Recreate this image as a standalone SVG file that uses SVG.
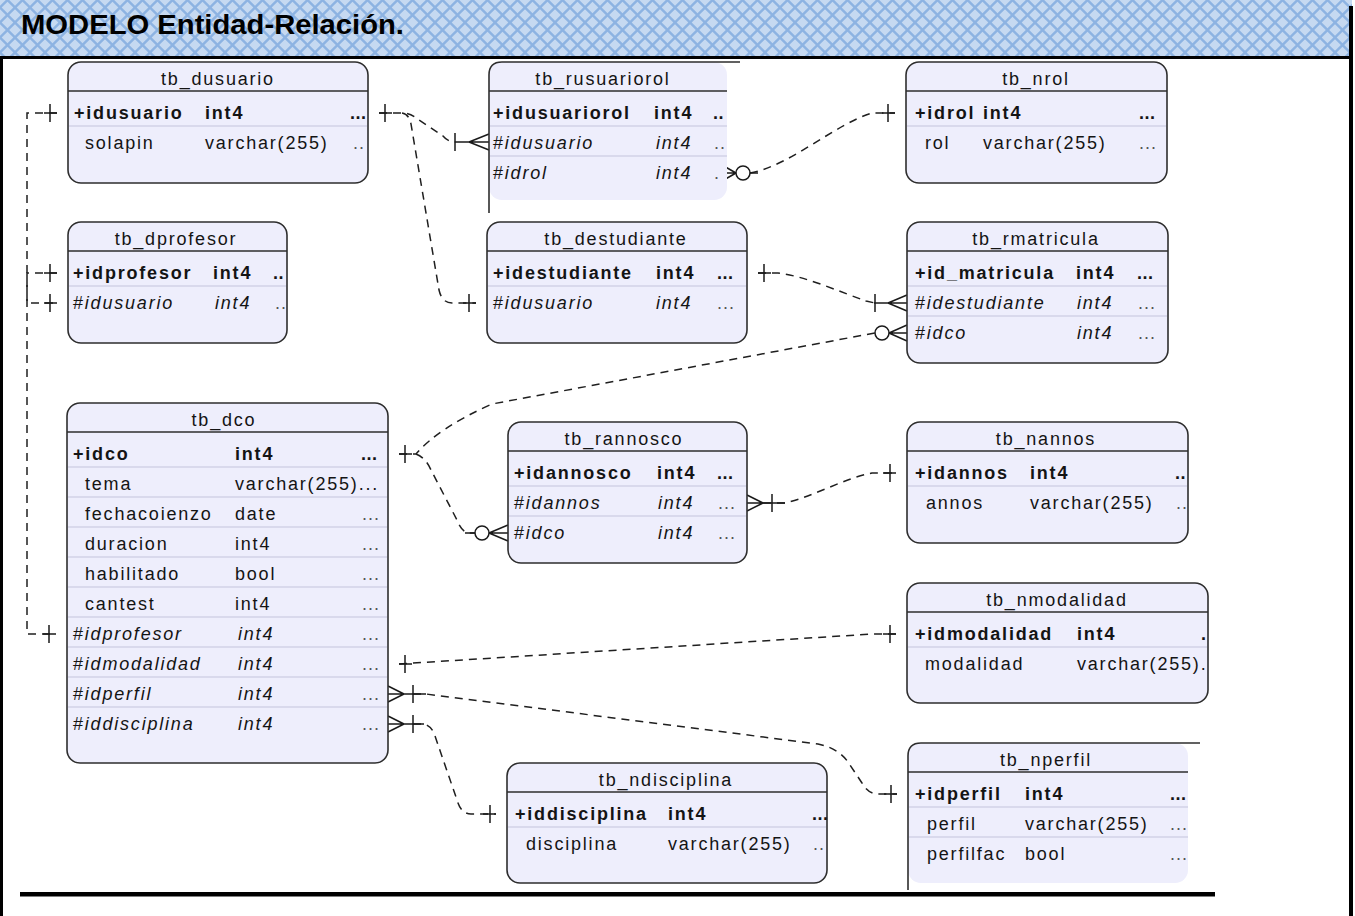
<svg xmlns="http://www.w3.org/2000/svg" width="1355" height="916" viewBox="0 0 1355 916">
<defs>
  <pattern id="hdr" width="15" height="15" patternUnits="userSpaceOnUse">
    <rect width="15" height="15" fill="#8db3e2"/>
    <path d="M7.5,1.7 L13.3,7.5 L7.5,13.3 L1.7,7.5Z" fill="#c6d9f1"/>
    <path d="M0,0 H5.8 L0,5.8Z M15,0 V5.8 L9.2,0Z M0,15 V9.2 L5.8,15Z M15,15 H9.2 L15,9.2Z" fill="#c6d9f1"/>
  </pattern>
  <style>
    .tbl{fill:#eeeefc;stroke:#2e2e2e;stroke-width:1.6}
    .fill{fill:#eeeefc}
    .edge{fill:none;stroke:#2e2e2e;stroke-width:1.6}
    .sep{stroke:#2e2e2e;stroke-width:1.6}
    .row{stroke:#c3c3dc;stroke-width:1.2}
    text{font-family:"Liberation Sans",Arial,sans-serif;font-size:18px;letter-spacing:1.8px;fill:#141414}
    .ttl{text-anchor:middle}
    .pk{font-weight:bold}
    .it{font-style:italic}
    .dots{fill:#555;letter-spacing:1px}
    .bdots{font-weight:bold;letter-spacing:0.5px}
    .lnk{fill:none;stroke:#1f1f1f;stroke-width:1.5;stroke-dasharray:8 6}
    .mk{fill:none;stroke:#1a1a1a;stroke-width:1.5}
    .circ{fill:#ffffff;stroke:#1a1a1a;stroke-width:1.5}
  </style>
</defs>

<rect width="1355" height="916" fill="#ffffff"/>

<!-- title band -->
<g id="header">
  <rect x="0" y="0" width="1352" height="57" fill="url(#hdr)"/>
  <text x="21" y="34" textLength="383" lengthAdjust="spacingAndGlyphs" style="font-size:27px;font-weight:bold;letter-spacing:0;fill:#000">MODELO Entidad-Relación.</text>
</g>

<!-- frame -->
<g id="frame" fill="#000">
  <rect x="0" y="56" width="1353" height="3"/>
  <rect x="0" y="56" width="3" height="860"/>
  <rect x="1349" y="6" width="4" height="910"/>
  <rect x="20" y="892" width="1195" height="4.5"/>
</g>

<!-- relationships -->
<g id="connectors">
  <path class="lnk" d="M57,113 H27 V303 H57"/>
  <path class="lnk" d="M57,273 H27 V634 H56"/>
  <path class="lnk" d="M379,113 H402 Q410,113 416,118 L443,136 Q448,142 455,142"/>
  <path class="lnk" d="M402,113 Q409,114 411,124 L439,290 Q442,303 452,303 H476"/>
  <path class="lnk" d="M750,173 C790,166 835,124 872,113 H895"/>
  <path class="lnk" d="M758,273 H778 C805,276 840,292 866,301 L875,303"/>
  <path class="lnk" d="M399,454 H416 Q438,428 492,404 L875,333"/>
  <path class="lnk" d="M416,454 Q426,458 431,470 L457,520 Q462,533 470,533 H475"/>
  <path class="lnk" d="M763,503 H785 C812,497 845,478 872,473 H896"/>
  <path class="lnk" d="M399,664 L872,634 H896"/>
  <path class="lnk" d="M413,694 H426 L818,744 Q838,748 848,762 L862,783 Q868,794 878,794 H897"/>
  <path class="lnk" d="M413,724 H424 Q432,726 435,736 L457,800 Q461,814 471,814 H496"/>

  <!-- one ends -->
  <path class="mk" d="M44,113 H57 M50,104 V122"/>
  <path class="mk" d="M44,303 H57 M50,294 V312"/>
  <path class="mk" d="M44,273 H57 M50,264 V282"/>
  <path class="mk" d="M43,634 H56 M49,625 V643"/>
  <path class="mk" d="M379,113 H392 M385,104 V122"/>
  <path class="mk" d="M463,303 H476 M469,294 V312"/>
  <path class="mk" d="M882,113 H895 M888,104 V122"/>
  <path class="mk" d="M758,273 H771 M764,264 V282"/>
  <path class="mk" d="M399,454 H412 M405,445 V463"/>
  <path class="mk" d="M883,473 H896 M890,464 V482"/>
  <path class="mk" d="M399,664 H412 M405,655 V673"/>
  <path class="mk" d="M883,634 H896 M890,625 V643"/>
  <path class="mk" d="M884,794 H897 M891,785 V803"/>
  <path class="mk" d="M483,814 H496 M490,805 V823"/>

  <!-- one-or-many ends -->
  <path class="mk" d="M455,142 H489 M469,142 L489,134 M469,142 L489,150 M455,133 V151"/>
  <path class="mk" d="M874,303 H907 M888,303 L907,295 M888,303 L907,311 M875,294 V312"/>
  <path class="mk" d="M388,694 H426 M404,694 L388,686 M404,694 L388,702 M413,685 V703"/>
  <path class="mk" d="M388,724 H424 M404,724 L388,716 M404,724 L388,732 M413,715 V733"/>
  <path class="mk" d="M747,503 H785 M763,503 L747,495 M763,503 L747,511 M772,494 V512"/>

  <!-- zero-or-many ends -->
  <path class="mk" d="M889,333 H907 M889,333 L907,325 M889,333 L907,341"/>
  <circle class="circ" cx="882" cy="333" r="7"/>
  <path class="mk" d="M489,533 H508 M489,533 L508,525 M489,533 L508,541 M465,533 H475"/>
  <circle class="circ" cx="482" cy="533" r="7"/>
  <path class="mk" d="M736,173 H722 M736,173 L722,165 M736,173 L722,181 M750,173 H758"/>
  <circle class="circ" cx="743" cy="173" r="7"/>
</g>

<!-- entities -->
<g id="tb_dusuario">
  <rect class="tbl" x="68" y="62" width="300" height="121" rx="13"/>
  <line class="sep" x1="68" y1="91" x2="368" y2="91"/>
  <line class="row" x1="69" y1="126" x2="367" y2="126"/>
  <text class="ttl" x="218" y="85">tb_dusuario</text>
  <text class="pk" x="74" y="119">+idusuario</text>
  <text class="pk" x="205" y="119">int4</text>
  <text class="bdots" x="350" y="119">...</text>
  <text x="85" y="149">solapin</text>
  <text x="205" y="149">varchar(255)</text>
  <text class="dots" x="353" y="149">..</text>
</g>

<g id="tb_rusuariorol">
  <rect class="fill" x="489" y="62" width="238" height="138" rx="13"/>
  <path class="edge" d="M489,213 V75 Q489,62 502,62 H740"/>
  <line class="sep" x1="489" y1="91" x2="727" y2="91"/>
  <line class="row" x1="490" y1="126" x2="727" y2="126"/>
  <line class="row" x1="490" y1="156" x2="727" y2="156"/>
  <text class="ttl" x="603" y="85">tb_rusuariorol</text>
  <text class="pk" x="493" y="119">+idusuariorol</text>
  <text class="pk" x="654" y="119">int4</text>
  <text class="bdots" x="713" y="119">..</text>
  <text x="493" y="149">#<tspan class="it">idusuario</tspan></text>
  <text class="it" x="656" y="149">int4</text>
  <text class="dots" x="714" y="149">..</text>
  <text x="493" y="179">#<tspan class="it">idrol</tspan></text>
  <text class="it" x="656" y="179">int4</text>
  <text class="dots" x="714" y="179">.</text>
</g>

<g id="tb_nrol">
  <rect class="tbl" x="906" y="62" width="261" height="121" rx="13"/>
  <line class="sep" x1="906" y1="91" x2="1167" y2="91"/>
  <line class="row" x1="907" y1="126" x2="1166" y2="126"/>
  <text class="ttl" x="1036" y="85">tb_nrol</text>
  <text class="pk" x="915" y="119">+idrol</text>
  <text class="pk" x="983" y="119">int4</text>
  <text class="bdots" x="1139" y="119">...</text>
  <text x="925" y="149">rol</text>
  <text x="983" y="149">varchar(255)</text>
  <text class="dots" x="1139" y="149">...</text>
</g>

<g id="tb_dprofesor">
  <rect class="tbl" x="68" y="222" width="219" height="121" rx="13"/>
  <line class="sep" x1="68" y1="251" x2="287" y2="251"/>
  <line class="row" x1="69" y1="286" x2="286" y2="286"/>
  <text class="ttl" x="176" y="245">tb_dprofesor</text>
  <text class="pk" x="73" y="279">+idprofesor</text>
  <text class="pk" x="213" y="279">int4</text>
  <text class="bdots" x="273" y="279">..</text>
  <text x="73" y="309">#<tspan class="it">idusuario</tspan></text>
  <text class="it" x="215" y="309">int4</text>
  <text class="dots" x="275" y="309">..</text>
</g>

<g id="tb_destudiante">
  <rect class="tbl" x="487" y="222" width="260" height="121" rx="13"/>
  <line class="sep" x1="487" y1="251" x2="747" y2="251"/>
  <line class="row" x1="488" y1="286" x2="746" y2="286"/>
  <text class="ttl" x="616" y="245">tb_destudiante</text>
  <text class="pk" x="493" y="279">+idestudiante</text>
  <text class="pk" x="656" y="279">int4</text>
  <text class="bdots" x="717" y="279">...</text>
  <text x="493" y="309">#<tspan class="it">idusuario</tspan></text>
  <text class="it" x="656" y="309">int4</text>
  <text class="dots" x="717" y="309">...</text>
</g>

<g id="tb_rmatricula">
  <rect class="tbl" x="907" y="222" width="261" height="141" rx="13"/>
  <line class="sep" x1="907" y1="251" x2="1168" y2="251"/>
  <line class="row" x1="908" y1="286" x2="1167" y2="286"/>
  <line class="row" x1="908" y1="316" x2="1167" y2="316"/>
  <text class="ttl" x="1036" y="245">tb_rmatricula</text>
  <text class="pk" x="915" y="279">+id_matricula</text>
  <text class="pk" x="1076" y="279">int4</text>
  <text class="bdots" x="1137" y="279">...</text>
  <text x="915" y="309">#<tspan class="it">idestudiante</tspan></text>
  <text class="it" x="1077" y="309">int4</text>
  <text class="dots" x="1138" y="309">...</text>
  <text x="915" y="339">#<tspan class="it">idco</tspan></text>
  <text class="it" x="1077" y="339">int4</text>
  <text class="dots" x="1138" y="339">...</text>
</g>

<g id="tb_dco">
  <rect class="tbl" x="67" y="403" width="321" height="360" rx="13"/>
  <line class="sep" x1="67" y1="432" x2="388" y2="432"/>
  <g class="row">
    <line x1="68" y1="467" x2="387" y2="467"/>
    <line x1="68" y1="497" x2="387" y2="497"/>
    <line x1="68" y1="527" x2="387" y2="527"/>
    <line x1="68" y1="557" x2="387" y2="557"/>
    <line x1="68" y1="587" x2="387" y2="587"/>
    <line x1="68" y1="617" x2="387" y2="617"/>
    <line x1="68" y1="647" x2="387" y2="647"/>
    <line x1="68" y1="677" x2="387" y2="677"/>
    <line x1="68" y1="707" x2="387" y2="707"/>
  </g>
  <text class="ttl" x="224" y="426">tb_dco</text>
  <text class="pk" x="73" y="460">+idco</text>
  <text class="pk" x="235" y="460">int4</text>
  <text class="bdots" x="361" y="460">...</text>
  <text x="85" y="490">tema</text>
  <text x="235" y="490">varchar(255)...</text>
  <text x="85" y="520">fechacoienzo</text>
  <text x="235" y="520">date</text>
  <text class="dots" x="362" y="520">...</text>
  <text x="85" y="550">duracion</text>
  <text x="235" y="550">int4</text>
  <text class="dots" x="362" y="550">...</text>
  <text x="85" y="580">habilitado</text>
  <text x="235" y="580">bool</text>
  <text class="dots" x="362" y="580">...</text>
  <text x="85" y="610">cantest</text>
  <text x="235" y="610">int4</text>
  <text class="dots" x="362" y="610">...</text>
  <text x="73" y="640">#<tspan class="it">idprofesor</tspan></text>
  <text class="it" x="238" y="640">int4</text>
  <text class="dots" x="362" y="640">...</text>
  <text x="73" y="670">#<tspan class="it">idmodalidad</tspan></text>
  <text class="it" x="238" y="670">int4</text>
  <text class="dots" x="362" y="670">...</text>
  <text x="73" y="700">#<tspan class="it">idperfil</tspan></text>
  <text class="it" x="238" y="700">int4</text>
  <text class="dots" x="362" y="700">...</text>
  <text x="73" y="730">#<tspan class="it">iddisciplina</tspan></text>
  <text class="it" x="238" y="730">int4</text>
  <text class="dots" x="362" y="730">...</text>
</g>

<g id="tb_rannosco">
  <rect class="tbl" x="508" y="422" width="239" height="141" rx="13"/>
  <line class="sep" x1="508" y1="451" x2="747" y2="451"/>
  <line class="row" x1="509" y1="486" x2="746" y2="486"/>
  <line class="row" x1="509" y1="516" x2="746" y2="516"/>
  <text class="ttl" x="624" y="445">tb_rannosco</text>
  <text class="pk" x="514" y="479">+idannosco</text>
  <text class="pk" x="657" y="479">int4</text>
  <text class="bdots" x="717" y="479">...</text>
  <text x="514" y="509">#<tspan class="it">idannos</tspan></text>
  <text class="it" x="658" y="509">int4</text>
  <text class="dots" x="718" y="509">...</text>
  <text x="514" y="539">#<tspan class="it">idco</tspan></text>
  <text class="it" x="658" y="539">int4</text>
  <text class="dots" x="718" y="539">...</text>
</g>

<g id="tb_nannos">
  <rect class="tbl" x="907" y="422" width="281" height="121" rx="13"/>
  <line class="sep" x1="907" y1="451" x2="1188" y2="451"/>
  <line class="row" x1="908" y1="486" x2="1187" y2="486"/>
  <text class="ttl" x="1046" y="445">tb_nannos</text>
  <text class="pk" x="915" y="479">+idannos</text>
  <text class="pk" x="1030" y="479">int4</text>
  <text class="bdots" x="1175" y="479">..</text>
  <text x="926" y="509">annos</text>
  <text x="1030" y="509">varchar(255)</text>
  <text class="dots" x="1176" y="509">..</text>
</g>

<g id="tb_nmodalidad">
  <rect class="tbl" x="907" y="583" width="301" height="120" rx="13"/>
  <line class="sep" x1="907" y1="612" x2="1208" y2="612"/>
  <line class="row" x1="908" y1="647" x2="1207" y2="647"/>
  <text class="ttl" x="1057" y="606">tb_nmodalidad</text>
  <text class="pk" x="915" y="640">+idmodalidad</text>
  <text class="pk" x="1077" y="640">int4</text>
  <text class="bdots" x="1201" y="640">.</text>
  <text x="925" y="670">modalidad</text>
  <text x="1077" y="670">varchar(255).</text>
</g>

<g id="tb_ndisciplina">
  <rect class="tbl" x="507" y="763" width="320" height="120" rx="13"/>
  <line class="sep" x1="507" y1="792" x2="827" y2="792"/>
  <line class="row" x1="508" y1="827" x2="826" y2="827"/>
  <text class="ttl" x="666" y="786">tb_ndisciplina</text>
  <text class="pk" x="515" y="820">+iddisciplina</text>
  <text class="pk" x="668" y="820">int4</text>
  <text class="bdots" x="812" y="820">...</text>
  <text x="526" y="850">disciplina</text>
  <text x="668" y="850">varchar(255)</text>
  <text class="dots" x="813" y="850">..</text>
</g>

<g id="tb_nperfil">
  <rect class="fill" x="908" y="743" width="280" height="140" rx="13"/>
  <path class="edge" d="M908,890 V756 Q908,743 921,743 H1200"/>
  <line class="sep" x1="908" y1="772" x2="1188" y2="772"/>
  <line class="row" x1="909" y1="807" x2="1188" y2="807"/>
  <line class="row" x1="909" y1="837" x2="1188" y2="837"/>
  <text class="ttl" x="1046" y="766">tb_nperfil</text>
  <text class="pk" x="915" y="800">+idperfil</text>
  <text class="pk" x="1025" y="800">int4</text>
  <text class="bdots" x="1170" y="800">...</text>
  <text x="927" y="830">perfil</text>
  <text x="1025" y="830">varchar(255)</text>
  <text class="dots" x="1170" y="830">...</text>
  <text x="927" y="860">perfilfac</text>
  <text x="1025" y="860">bool</text>
  <text class="dots" x="1170" y="860">...</text>
</g>
</svg>
